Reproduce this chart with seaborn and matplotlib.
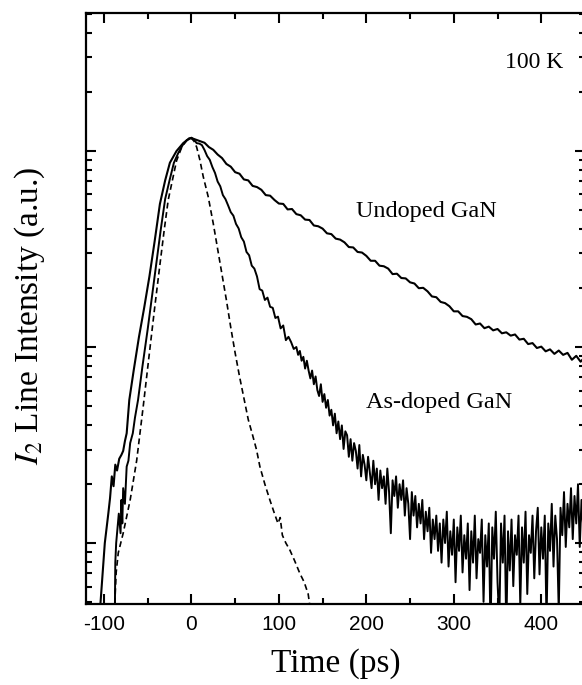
import numpy as np
import pandas as pd
import matplotlib
matplotlib.use("Agg")
import matplotlib.pyplot as plt
from matplotlib.ticker import MultipleLocator, NullFormatter, FixedLocator
import seaborn as sns

undoped_t = [-106, -104, -99, -95, -93, -91, -89, -87, -85, -82.5, -80, -78, -76, -74, -71,
             -66, -60, -54, -48, -42, -36, -30, -24.6, -17, -9.4, -2.5] + list(range(0, 451, 5))
undoped_log10 = [-2.45, -2.31, -2.00, -1.85, -1.77, -1.66, -1.71, -1.60, -1.63, -1.57, -1.55, -1.53,
                 -1.48, -1.44, -1.27, -1.12, -0.95, -0.80, -0.64, -0.46, -0.27, -0.15, -0.06, 0.00,
                 0.04, 0.065,
                 0.066, 0.058, 0.050, 0.042, 0.020, 0.006, -0.018, -0.036, -0.066, -0.080,
                 -0.108, -0.116, -0.145, -0.150, -0.178, -0.184, -0.198, -0.225, -0.228, -0.250,
                 -0.268, -0.270, -0.298, -0.296, -0.322, -0.328, -0.350, -0.352, -0.380, -0.384,
                 -0.396, -0.420, -0.424, -0.447, -0.452, -0.466, -0.490, -0.492, -0.515, -0.518,
                 -0.535, -0.560, -0.560, -0.585, -0.588, -0.600, -0.628, -0.626, -0.648, -0.650,
                 -0.670, -0.676, -0.700, -0.698, -0.716, -0.742, -0.746, -0.770, -0.776, -0.792,
                 -0.818, -0.818, -0.842, -0.846, -0.858, -0.885, -0.880, -0.904, -0.896, -0.915,
                 -0.908, -0.930, -0.925, -0.942, -0.936, -0.962, -0.958, -0.985, -0.980, -1.005,
                 -0.998, -1.022, -1.012, -1.035, -1.018, -1.040, -1.030, -1.065, -1.045, -1.075,
                 -1.050]

asdoped_t = ([-88.0, -87.4, -87.0, -86, -85, -83, -81, -80, -79, -78, -76, -74, -72, -70, -67,
              -64.5, -61, -56, -50, -45, -40, -35, -30, -25, -20, -15, -10, -5, -2]
             + list(range(0, 120, 3)) + list(range(120, 451, 2)))
asdoped_log10 = [
    # rising edge
    -2.60, -2.33, -2.10, -2.00, -1.95, -1.85, -1.95, -1.78, -1.90, -1.72, -1.80, -1.61,
    -1.58, -1.49, -1.44, -1.36, -1.27, -1.10, -0.91, -0.74, -0.57, -0.40, -0.245,
    -0.15, -0.06, -0.01, 0.03, 0.055, 0.062,
    # 0 .. 117 ps (3 ps)
    0.068, 0.058, 0.040, 0.038, 0.030, 0.005, -0.026, -0.045, -0.082, -0.112,
    -0.156, -0.180, -0.225, -0.246, -0.278, -0.312, -0.330, -0.372, -0.395, -0.440,
    -0.462, -0.515, -0.532, -0.585, -0.600, -0.640, -0.705, -0.712, -0.760, -0.748,
    -0.795, -0.800, -0.852, -0.845, -0.905, -0.890, -0.965, -0.948, -0.975, -1.010,
    # 120 .. 450 ps (2 ps)
    -1.00, -1.04, -1.02, -1.07, -1.05, -1.11, -1.07, -1.12, -1.16, -1.12,
    -1.19, -1.15, -1.22, -1.25, -1.19, -1.28, -1.24, -1.31, -1.27, -1.35,
    -1.32, -1.40, -1.34, -1.44, -1.38, -1.47, -1.40, -1.52, -1.43, -1.45,
    -1.56, -1.47, -1.58, -1.49, -1.53, -1.62, -1.50, -1.66, -1.55, -1.60,
    -1.68, -1.56, -1.64, -1.72, -1.58, -1.70, -1.62, -1.78, -1.63, -1.72,
    -1.66, -1.80, -1.62, -1.74, -1.95, -1.68, -1.76, -1.66, -1.82, -1.70,
    -1.78, -1.68, -1.86, -1.72, -1.80, -1.98, -1.74, -1.86, -1.76, -1.92,
    -1.80, -1.90, -1.78, -1.98, -1.84, -1.94, -1.82, -2.05, -1.88, -1.98,
    -1.86, -2.04, -1.90, -2.10, -1.88, -2.00, -1.84, -2.12, -1.94, -2.06,
    -1.88, -2.20, -1.92, -2.04, -1.86, -2.15, -1.96, -2.08, -1.90, -2.24,
    -1.94, -2.10, -1.86, -2.18, -1.98, -2.05, -1.88, -2.30, -1.96, -2.12,
    -1.90, -2.45, -1.92, -2.08, -1.84, -2.20, -2.40, -1.90, -2.10, -1.86,
    -2.45, -1.94, -2.14, -1.88, -2.22, -1.96, -2.06, -1.86, -2.32, -1.92,
    -2.10, -1.84, -2.26, -1.96, -2.05, -1.86, -2.18, -1.94, -1.82, -2.16,
    -1.92, -2.08, -1.86, -2.40, -1.90, -2.04, -1.80, -2.12, -1.86, -1.98,
    -2.35, -1.82, -1.96, -1.74, -2.02, -1.80, -1.92, -1.72, -1.98, -1.76,
    -1.90, -1.70, -2.02, -1.78, -1.92, -1.80]

laser_t = [-88, -87.4, -86, -83.6, -78, -70, -62.6, -55, -48, -42, -36, -31, -26.5, -20.8, -17,
           -11, -5.5, 0, 3, 6, 9.7, 13.5, 19.2, 25, 30, 35, 40, 45, 50, 55, 60, 65, 70, 74.5,
           78.3, 84, 89.7, 95, 99, 101.5, 104, 108, 112.6, 118, 124, 129, 133.5, 138]
laser_log10 = [-2.60, -2.29, -2.15, -2.05, -1.95, -1.78, -1.58, -1.30, -1.03, -0.80, -0.58, -0.40,
               -0.25, -0.13, -0.05, 0.02, 0.055, 0.065, 0.05, 0.02, -0.046, -0.13, -0.233, -0.37,
               -0.50, -0.63, -0.76, -0.90, -1.03, -1.15, -1.26, -1.37, -1.45, -1.525, -1.61, -1.70,
               -1.78, -1.85, -1.90, -1.87, -1.96, -2.00, -2.036, -2.09, -2.155, -2.20, -2.26, -2.40]

x_ticks = [-100, 0, 100, 200, 300, 400]
x_ticklabels = ["-100", "0", "100", "200", "300", "400"]
labels = {"undoped": "Undoped GaN", "asdoped": "As-doped GaN", "temp": "100 K"}

# ---------------- figure ----------------
sns.set_theme(style="ticks")
plt.rcParams["font.family"] = ["Liberation Serif", "DejaVu Serif"]
plt.rcParams["mathtext.fontset"] = "stix"
for k in ["text.color", "axes.labelcolor", "xtick.color", "ytick.color", "axes.edgecolor"]:
    plt.rcParams[k] = "black"

fig = plt.figure(figsize=(5.82, 6.85), dpi=100)
ax = fig.add_axes([86 / 582, 1 - 604 / 685, 499 / 582, 591 / 685])

df_u = pd.DataFrame({"t": undoped_t, "I": 10 ** np.array(undoped_log10)})
df_a = pd.DataFrame({"t": asdoped_t, "I": 10 ** np.array(asdoped_log10)})
df_l = pd.DataFrame({"t": laser_t, "I": 10 ** np.array(laser_log10)})

sns.lineplot(data=df_u, x="t", y="I", ax=ax, color="black", lw=1.5, estimator=None, sort=False)
sns.lineplot(data=df_a, x="t", y="I", ax=ax, color="black", lw=1.4, estimator=None, sort=False)
sns.lineplot(data=df_l, x="t", y="I", ax=ax, color="black", lw=1.2, estimator=None, sort=False)
ax.lines[-1].set_dashes((3.5, 2.2))

ax.set_yscale("log")
ax.set_xlim(-120.5, 450)
ax.set_ylim(10 ** -2.311, 10 ** 0.704)

ax.xaxis.set_major_locator(FixedLocator(x_ticks))
ax.set_xticklabels(x_ticklabels, family="Liberation Sans", fontsize=15, color="black")
ax.xaxis.set_minor_locator(MultipleLocator(50))
ax.yaxis.set_major_formatter(NullFormatter())
ax.yaxis.set_minor_formatter(NullFormatter())

ax.tick_params(which="both", direction="in", top=True, right=True, width=1.5, color="black")
ax.tick_params(which="major", length=7)
ax.tick_params(which="minor", length=4)
ax.tick_params(axis="x", which="major", pad=8)
for s in ax.spines.values():
    s.set_linewidth(1.6)
    s.set_color("black")

ax.set_xlabel("Time (ps)", fontsize=24, labelpad=10)
ax.set_ylabel(r"$\mathit{I}_2$ Line Intensity (a.u.)", fontsize=24)
ax.yaxis.set_label_coords(-0.078, 0.487)

ax.text(0.956, 0.907, labels["temp"], transform=ax.transAxes, ha="right", va="baseline", fontsize=17)
ax.text(0.541, 0.655, labels["undoped"], transform=ax.transAxes, ha="left", va="baseline", fontsize=17.5)
ax.text(0.561, 0.332, labels["asdoped"], transform=ax.transAxes, ha="left", va="baseline", fontsize=17.5)

fig.savefig("out.png", dpi=100, facecolor="white")
